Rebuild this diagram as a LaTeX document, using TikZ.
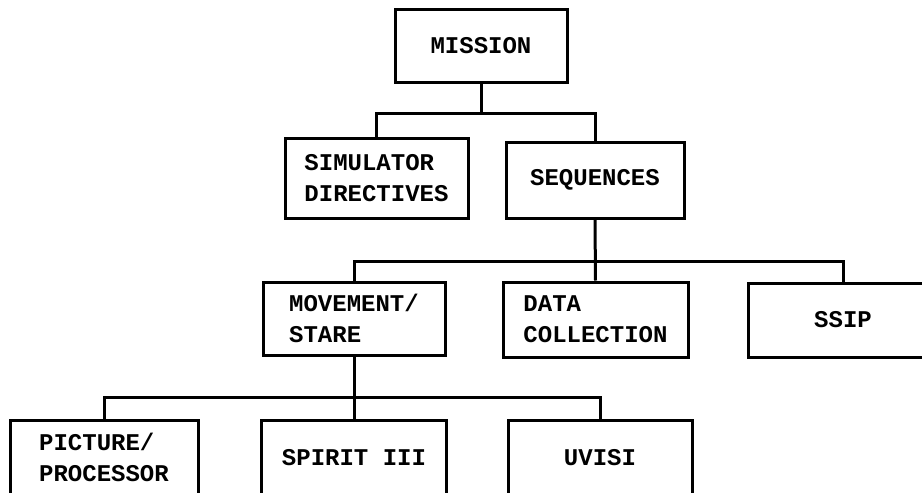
\documentclass[tikz,border=0pt]{standalone}
\usepackage{fontspec}
\setmainfont{Liberation Mono}
\begin{document}
\begin{tikzpicture}[x=1pt,y=-1pt,
  box/.style={draw, line width=3pt, inner sep=0pt, align=left,
    font=\fontsize{24}{31}\selectfont\bfseries},
  link/.style={line width=3pt}]
\useasboundingbox (0,0) rectangle (922,493);

% top level
\node[box, minimum width=172pt, minimum height=73pt] (mission) at (481,45.5) {MISSION};

% second level
\node[box, minimum width=183pt, minimum height=80pt] (sim) at (376.5,178) {SIMULATOR\\DIRECTIVES};
\node[box, minimum width=178pt, minimum height=76pt] (seq) at (595,180) {SEQUENCES};

% third level
\node[box, minimum width=182pt, minimum height=73pt] (move) at (354,318.5) {MOVEMENT/\\STARE};
\node[box, minimum width=185pt, minimum height=75pt] (data) at (595.5,319.5) {DATA\\COLLECTION};
\node[box, minimum width=190pt, minimum height=74pt] (ssip) at (843,320) {SSIP};

% fourth level
\node[box, minimum width=188pt, minimum height=75pt] (pict) at (104,457.5) {PICTURE/\\PROCESSOR};
\node[box, minimum width=185pt, minimum height=75pt] (spirit) at (354,457.5) {SPIRIT III};
\node[box, minimum width=184pt, minimum height=75pt] (uvisi) at (600,457.5) {UVISI};

% bus lines
\coordinate (busA) at (0,113);
\coordinate (busB) at (0,261);
\coordinate (busC) at (0,397);

\draw[link] (mission.south) -- (mission.south |- busA);
\draw[link] (sim.north) -- (sim.north |- busA) -- (seq.north |- busA) -- (seq.north);

\draw[link] (seq.south) -- (data.north);
\draw[link] (move.north) -- (move.north |- busB) -- (ssip.north |- busB) -- (ssip.north);

\draw[link] (move.south) -- (spirit.north);
\draw[link] (pict.north) -- (pict.north |- busC) -- (uvisi.north |- busC) -- (uvisi.north);
\end{tikzpicture}
\end{document}
